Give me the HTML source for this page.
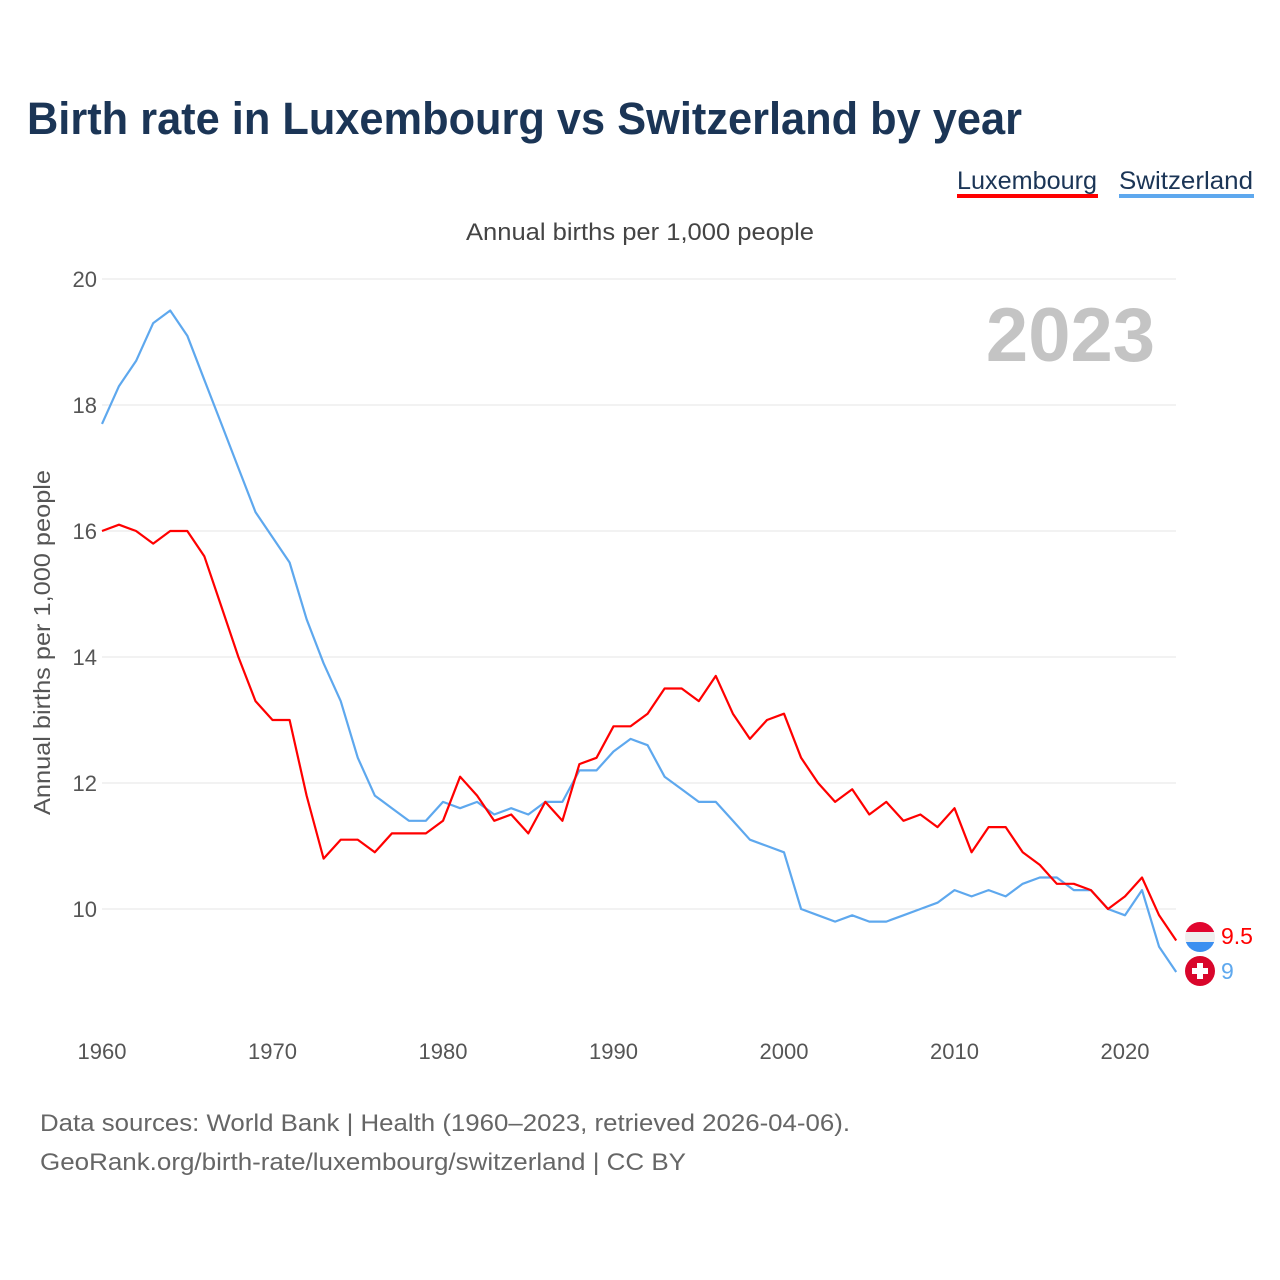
<!DOCTYPE html>
<html><head><meta charset="utf-8"><style>
body{margin:0;background:#fff;font-family:"Liberation Sans",sans-serif;}
svg{display:block}
</style></head><body>
<svg id="chart" width="1280" height="1280" viewBox="0 0 1280 1280" xmlns="http://www.w3.org/2000/svg">
<text x="27" y="134" font-size="45" font-weight="bold" fill="#1b3556" textLength="995" lengthAdjust="spacingAndGlyphs">Birth rate in Luxembourg vs Switzerland by year</text>
<g>
<text x="957" y="189" font-size="25" fill="#1b3556" textLength="140" lengthAdjust="spacingAndGlyphs">Luxembourg</text>
<rect x="957" y="194" width="141" height="4" fill="#ff0000"/>
</g>
<g>
<text x="1119" y="189" font-size="25" fill="#1b3556" textLength="134" lengthAdjust="spacingAndGlyphs">Switzerland</text>
<rect x="1119" y="194" width="135" height="4" fill="#5ea8ee"/>
</g>
<text x="466" y="240" font-size="24" fill="#444" textLength="348" lengthAdjust="spacingAndGlyphs">Annual births per 1,000 people</text>
<text transform="translate(50,815) rotate(-90)" font-size="23" fill="#555" textLength="345" lengthAdjust="spacingAndGlyphs">Annual births per 1,000 people</text>
<text x="1155" y="361" font-size="76" font-weight="bold" fill="#c4c4c4" text-anchor="end">2023</text>
<g id="grid"></g>
<g id="yticks"></g>
<g id="xticks"></g>
<g id="lines"></g>
<g>
<clipPath id="cl"><circle cx="1200" cy="937" r="15"/></clipPath>
<g clip-path="url(#cl)"><rect x="1185" y="922" width="30" height="10" fill="#e1062f"/><rect x="1185" y="932" width="30" height="10" fill="#eee"/><rect x="1185" y="942" width="30" height="10" fill="#3b8ff0"/></g>
</g>
<text x="1221" y="944" font-size="23" fill="#ff0000">9.5</text>
<g>
<circle cx="1200" cy="971" r="15" fill="#d9062b"/>
<rect x="1197" y="963" width="6" height="16" fill="#fff"/><rect x="1192" y="968" width="16" height="6" fill="#fff"/>
</g>
<text x="1221" y="979" font-size="23" fill="#5ea8ee">9</text>
<text x="40" y="1131" font-size="24" fill="#666" textLength="810" lengthAdjust="spacingAndGlyphs">Data sources: World Bank | Health (1960–2023, retrieved 2026-04-06).</text>
<text x="40" y="1170" font-size="24" fill="#666" textLength="646" lengthAdjust="spacingAndGlyphs">GeoRank.org/birth-rate/luxembourg/switzerland | CC BY</text>
</svg>
<script>
const years=[];for(let y=1960;y<=2023;y++)years.push(y);
const luxembourg=[16.0,16.1,16.0,15.8,16.0,16.0,15.6,14.8,14.0,13.3,13.0,13.0,11.8,10.8,11.1,11.1,10.9,11.2,11.2,11.2,11.4,12.1,11.8,11.4,11.5,11.2,11.7,11.4,12.3,12.4,12.9,12.9,13.1,13.5,13.5,13.3,13.7,13.1,12.7,13.0,13.1,12.4,12.0,11.7,11.9,11.5,11.7,11.4,11.5,11.3,11.6,10.9,11.3,11.3,10.9,10.7,10.4,10.4,10.3,10.0,10.2,10.5,9.9,9.5];
const switzerland=[17.7,18.3,18.7,19.3,19.5,19.1,18.4,17.7,17.0,16.3,15.9,15.5,14.6,13.9,13.3,12.4,11.8,11.6,11.4,11.4,11.7,11.6,11.7,11.5,11.6,11.5,11.7,11.7,12.2,12.2,12.5,12.7,12.6,12.1,11.9,11.7,11.7,11.4,11.1,11.0,10.9,10.0,9.9,9.8,9.9,9.8,9.8,9.9,10.0,10.1,10.3,10.2,10.3,10.2,10.4,10.5,10.5,10.3,10.3,10.0,9.9,10.3,9.4,9.0];
const yTicks=[10,12,14,16,18,20];
const xTicks=[1960,1970,1980,1990,2000,2010,2020];
const NS="http://www.w3.org/2000/svg";
const xs=y=>102+(y-1960)*17.05;
const ys=v=>909-(v-10)*63;
function mk(t,a,p){const e=document.createElementNS(NS,t);for(const k in a)e.setAttribute(k,a[k]);p.appendChild(e);return e;}
const grid=document.getElementById('grid'),yt=document.getElementById('yticks'),xt=document.getElementById('xticks'),ln=document.getElementById('lines');
yTicks.forEach(v=>{
 const l=mk('line',{x1:102,x2:1176,y1:ys(v),y2:ys(v),stroke:'#e6e6e6','stroke-width':1},grid);
 
 
 const t=mk('text',{x:97,y:ys(v)+8,'font-size':22,fill:'#555','text-anchor':'end'},yt);t.textContent=v;
 
 
});
xTicks.forEach(v=>{
 const t=mk('text',{x:xs(v),y:1059,'font-size':22,fill:'#555','text-anchor':'middle'},xt);t.textContent=v;
 
 
});
function series(d,c,n){
 const pts=d.map((v,i)=>xs(years[i]).toFixed(1)+','+ys(v).toFixed(1)).join(' ');
 const p=mk('polyline',{points:pts,fill:'none',stroke:c,'stroke-width':2.2,'stroke-linejoin':'round'},ln);
 
 
}
series(switzerland,'#5ea8ee','line-switzerland');
series(luxembourg,'#ff0000','line-luxembourg');
</script>
</body></html>
